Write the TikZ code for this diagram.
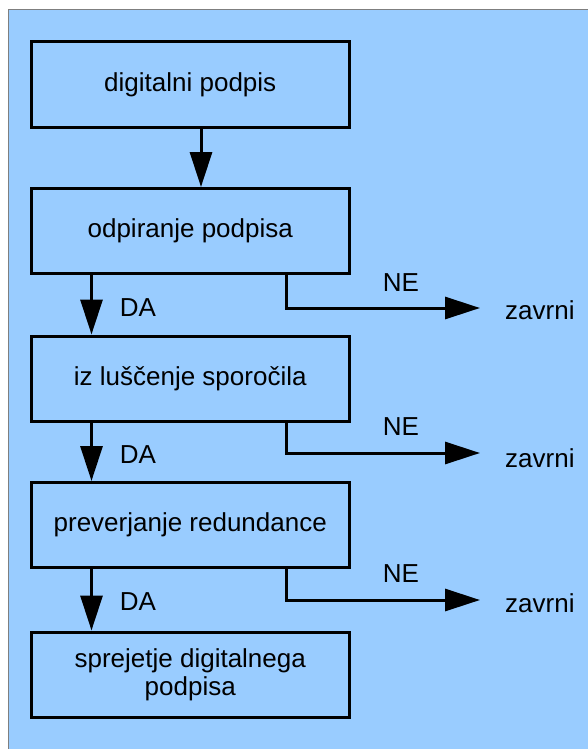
\documentclass[tikz,border=0pt]{standalone}
\usepackage{fontspec}
\setmainfont{Liberation Sans}
\usetikzlibrary{arrows.meta,calc}
\definecolor{bgblue}{HTML}{99CCFF}
\definecolor{framegray}{HTML}{7F7F7F}
\begin{document}
\begin{tikzpicture}[x=1pt,y=-1pt,
  stepbox/.style={draw=black,line width=3pt,fill=bgblue,minimum width=318.5pt,minimum height=85pt,inner sep=0pt,align=center,font=\fontsize{26}{28}\selectfont},
  lbl/.style={font=\fontsize{26}{28}\selectfont,inner sep=0pt},
  arr/.style={line width=3pt,-{Triangle[width=22pt,length=35pt]}},
  ln/.style={line width=3pt}]
\useasboundingbox (0,0) rectangle (588,749);
\fill[white] (0,0) rectangle (588,749);
\draw[fill=bgblue,draw=framegray,line width=1pt] (8,10) rectangle (600,760);
\node[stepbox,minimum height=86pt] (b1) at (190.25,85) {digitalni podpis};
\node[stepbox] (b2) at (190.25,231) {\raisebox{-2pt}{odpiranje podpisa}};
\node[stepbox] (b3) at (190.25,378.5) {iz luščenje sporočila};
\node[stepbox] (b4) at (190.25,525) {preverjanje redundance};
\node[stepbox] (b5) at (190.25,674.5) {sprejetje digitalnega\\podpisa};
% main arrow
\draw[arr] ($(b1.south west)+(171.5,0)$) -- ($(b2.north west)+(171.5,0)$);
% DA arrows
\draw[arr] ($(b2.south west)+(62,0)$) -- ($(b3.north west)+(62,0)$);
\draw[arr] ($(b3.south west)+(62,0)$) -- ($(b4.north west)+(62,0)$);
\draw[arr] ($(b4.south west)+(62,0)$) -- ($(b5.north west)+(62,0)$);
% labels
\node[lbl] (da1) at (138,308) {DA};
\node[lbl] (da2) at (138,455) {DA};
\node[lbl] (da3) at (138,602) {DA};
\node[lbl] (ne1) at (401,283) {NE};
\node[lbl] (ne2) at (401,427) {NE};
\node[lbl] (ne3) at (401,574) {NE};
\node[lbl,anchor=west] (z1) at (505,310) {zavrni};
\node[lbl,anchor=west] (z2) at (505,458) {zavrni};
\node[lbl,anchor=west] (z3) at (505,603) {zavrni};
\coordinate (e1) at (480,308);
\coordinate (e2) at (480,453);
\coordinate (e3) at (480,600);
% NE connectors
\draw[arr] ($(b2.south west)+(257,0)$) |- (e1);
\draw[arr] ($(b3.south west)+(257,0)$) |- (e2);
\draw[arr] ($(b4.south west)+(257,0)$) |- (e3);
\end{tikzpicture}
\end{document}
